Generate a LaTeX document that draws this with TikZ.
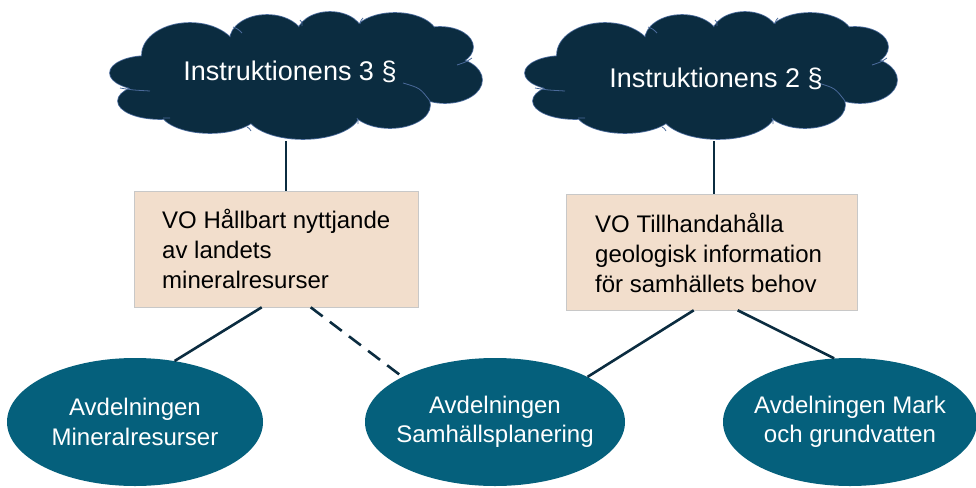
\documentclass[tikz,border=0pt]{standalone}
\usepackage{fontspec}
\setmainfont{Liberation Sans}
\usetikzlibrary{shapes.geometric,calc}
\definecolor{cloudfill}{HTML}{0B2C40}
\definecolor{cloudline}{HTML}{4A6A9A}
\definecolor{boxfill}{HTML}{F2DECC}
\definecolor{boxline}{HTML}{C8C8C8}
\definecolor{ellfill}{HTML}{05607C}
\definecolor{linkcol}{HTML}{0B2C40}
\newcommand{\cloudlobes}[1]{%
  \path[#1]
    (148,73) ellipse [x radius=38, y radius=17]
    (160,101) ellipse [x radius=42, y radius=18]
    (210,110) ellipse [x radius=50, y radius=23]
    (303,112) ellipse [x radius=57, y radius=27]
    (390,105) ellipse [x radius=40, y radius=23]
    (445,80) ellipse [x radius=37, y radius=23]
    (440,47) ellipse [x radius=33, y radius=20]
    (395,36) ellipse [x radius=42, y radius=23]
    (330,35) ellipse [x radius=33, y radius=23]
    (267,40) ellipse [x radius=37, y radius=25]
    (190,55) ellipse [x radius=48, y radius=32]
    (296,78) ellipse [x radius=150, y radius=45];}
\newcommand{\cloudarcs}{%
  \draw[draw=cloudline, line width=0.8pt]
    (120,88) .. controls (132,90) .. (150,91)
    (233,27) .. controls (238,29) .. (242,33)
    (300,20) .. controls (302,22) .. (302,26)
    (363,18) .. controls (361,20) .. (360,24)
    (472,58) .. controls (466,62) .. (457,65)
    (403,83) .. controls (420,88) .. (430,101)
    (357,118) .. controls (358,120) .. (358,124)
    (247,127) .. controls (249,128) .. (251,131)
    (163,118) .. controls (167,118) .. (170,118);}
\tikzset{
  cloudtext/.style={text=white, font=\fontsize{27}{32}\selectfont},
  vobox/.style={rectangle, fill=boxfill, draw=boxline, line width=0.6pt, inner sep=0pt},
  votext/.style={anchor=north west, align=left, inner sep=0pt, text=black,
    font=\fontsize{24}{30}\selectfont},
  avd/.style={ellipse, fill=ellfill, draw=none, minimum width=256pt, minimum height=128pt,
    inner sep=0pt},
  avdtext/.style={align=center, inner sep=0pt, text=white, font=\fontsize{24}{29.5}\selectfont},
  link/.style={draw=linkcol, line width=2.6pt},
  dlink/.style={link, dash pattern=on 15pt off 9pt}
}
\begin{document}
\begin{tikzpicture}[x=1pt,y=-1pt]
\useasboundingbox (0,0) rectangle (976,487);
% clouds
\begin{scope}
  \cloudlobes{draw=cloudline, line width=1.6pt}
  \cloudlobes{fill=cloudfill}
  \cloudarcs
\end{scope}
\begin{scope}[xshift=415pt]
  \cloudlobes{draw=cloudline, line width=1.6pt}
  \cloudlobes{fill=cloudfill}
  \cloudarcs
\end{scope}
\node[cloudtext] (t1) at (290,72) {Instruktionens 3 §};
\node[cloudtext] (t2) at (716,79) {Instruktionens 2 §};
\coordinate (c1b) at (286,141);
\coordinate (c2b) at (714,141);
% boxes
\node[vobox, minimum width=284pt, minimum height=116pt] (b1) at (276,249) {};
\node[votext] (bt1) at (162,209) {VO Hållbart nyttjande\\av landets\\mineralresurser};
\node[vobox, minimum width=291pt, minimum height=116pt] (b2) at (711.5,252) {};
\node[votext] (bt2) at (595,213) {VO Tillhandahålla\\geologisk information\\för samhällets behov};
% ellipses
\node[avd] (e1) at (135,422) {};
\node[avdtext] (l1) at (e1) {Avdelningen\\Mineralresurser};
\node[avd, minimum width=260pt] (e2) at (495,422) {};
\node[avdtext] (l2) at (e2) {Avdelningen\\Samhällsplanering};
\node[avd, minimum width=254pt] (e3) at (850,422) {};
\node[avdtext] (l3) at (e3) {Avdelningen Mark\\och grundvatten};
% connector anchors on boxes
\path (b1.south west) ++(128,0) coordinate (b1l);
\path (b1.south west) ++(177,0) coordinate (b1r);
\path (b2.south west) ++(128,0) coordinate (b2l);
\path (b2.south west) ++(172,0) coordinate (b2r);
% connectors
\draw[link] (c1b) -- (c1b |- b1.north);
\draw[link] (c2b) -- (c2b |- b2.north);
\draw[link] (b1l) -- (e1.57);
\draw[dlink] (b1r) -- (e2.154);
\draw[link] (b2l) -- (e2.26);
\draw[link] (b2r) -- (e3.104);
\end{tikzpicture}
\end{document}
